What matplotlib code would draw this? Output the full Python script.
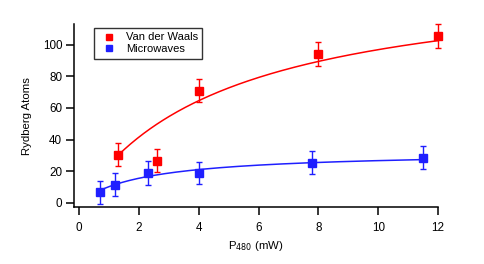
import numpy as np
import matplotlib
matplotlib.use("Agg")
import matplotlib.pyplot as plt
from matplotlib.lines import Line2D

plt.rcParams['font.family'] = ['Liberation Sans', 'DejaVu Sans']

# Data
vdw_x = [1.3, 2.6, 4.0, 8.0, 12.0]
vdw_y = [30.5, 26.5, 71.0, 94.0, 105.5]
vdw_err = [7.5, 7.3, 7.3, 7.5, 7.4]

mw_x = [0.7, 1.2, 2.3, 4.0, 7.8, 11.5]
mw_y = [6.6, 11.5, 18.8, 18.8, 25.2, 28.5]
mw_err = [7.3, 7.2, 7.3, 7.2, 7.3, 7.2]

# Saturation fit parameters: y = A * x / (x + B)
vdw_fit = (145.3, 5.0)
mw_fit = (32.5, 2.2)

red = '#ff0000'
blue = '#1f1fff'

fig = plt.figure(figsize=(4.85, 2.64), dpi=100)
ax = fig.add_axes([0.1526, 0.2148, 0.7505, 0.6943])

def fit_curve(xs, p):
    xx = np.linspace(min(xs), max(xs), 200)
    return xx, p[0] * xx / (xx + p[1])

xx, yy = fit_curve(vdw_x, vdw_fit)
ax.plot(xx, yy, color=red, lw=1.1)
xx, yy = fit_curve(mw_x, mw_fit)
ax.plot(xx, yy, color=blue, lw=1.1)

for xs, ys, es, c in [(vdw_x, vdw_y, vdw_err, red), (mw_x, mw_y, mw_err, blue)]:
    cont = ax.errorbar(xs, ys, yerr=es, fmt='s', color=c, ms=5.3,
                       ecolor=c, elinewidth=1.0, capsize=2.5, capthick=1.0)
    for art in cont.get_children():
        art.set_clip_on(False)

ax.set_xlim(-0.17, 12.0)
ax.set_ylim(-2.9, 113.1)
ax.set_xticks([0, 2, 4, 6, 8, 10, 12])
ax.set_yticks([0, 20, 40, 60, 80, 100])
for s in ['top', 'right']:
    ax.spines[s].set_visible(False)
for s in ['left', 'bottom']:
    ax.spines[s].set_linewidth(1.1)
ax.tick_params(axis='x', direction='out', length=5.5, width=1.1,
               labelsize=8.4, pad=5)
ax.tick_params(axis='y', direction='out', length=5.5, width=1.1,
               labelsize=8.4, pad=3)
ax.set_xlabel('P$_{480}$ (mW)', fontsize=8.2, labelpad=4)
ax.set_ylabel('Rydberg Atoms', fontsize=8.2, labelpad=8)

handles = [Line2D([], [], ls='none', marker='s', color=red, ms=4.5),
           Line2D([], [], ls='none', marker='s', color=blue, ms=4.5)]
leg = ax.legend(handles, ['Van der Waals', 'Microwaves'], loc='upper left',
                bbox_to_anchor=(0.055, 0.978), fontsize=8, frameon=True,
                fancybox=False, edgecolor='black', handlelength=1.9,
                handletextpad=0.55, borderpad=0.4, labelspacing=0.15,
                borderaxespad=0)
leg.get_frame().set_linewidth(1.0)

fig.savefig('out.png', dpi=100)
